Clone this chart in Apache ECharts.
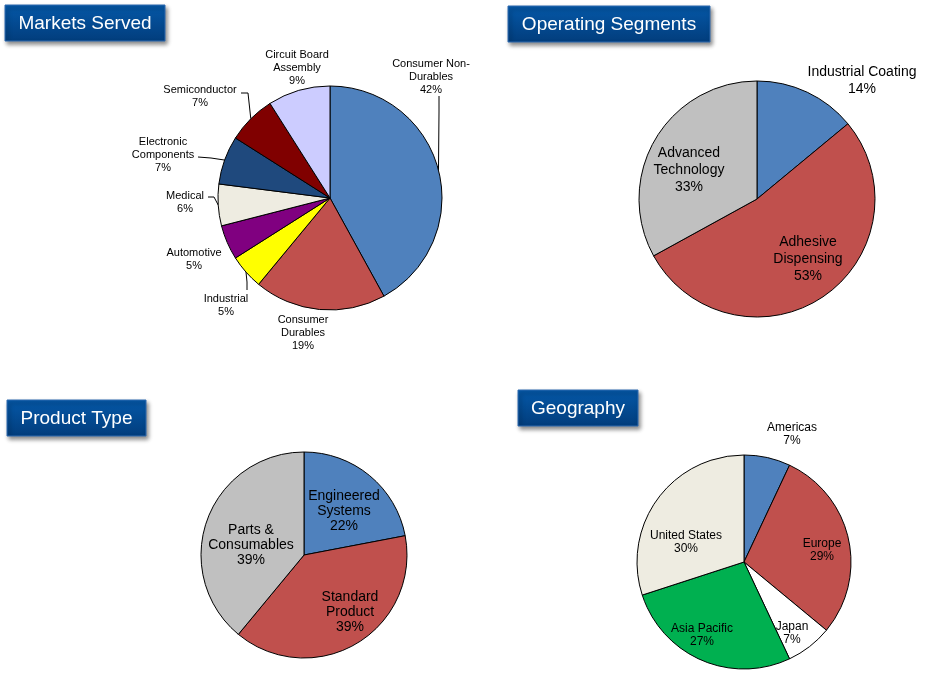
<!DOCTYPE html>
<html>
<head>
<meta charset="utf-8">
<script src="https://cdn.jsdelivr.net/npm/echarts@6/dist/echarts.min.js"></script>
<style>
html,body{margin:0;padding:0;background:#fff;}
#main{width:937px;height:687px;}
</style>
</head>
<body>
<div id="main"></div>
<script>
// ---- Data ----
var marketsCategories = ['Consumer Non-\nDurables', 'Consumer\nDurables', 'Industrial', 'Automotive', 'Medical', 'Electronic\nComponents', 'Semiconductor', 'Circuit Board\nAssembly'];
var marketsValues = [42, 19, 5, 5, 6, 7, 7, 9];

var segmentsCategories = ['Industrial Coating', 'Adhesive\nDispensing', 'Advanced\nTechnology'];
var segmentsValues = [14, 53, 33];

var productCategories = ['Engineered\nSystems', 'Standard\nProduct', 'Parts &\nConsumables'];
var productValues = [22, 39, 39];

var geoCategories = ['Americas', 'Europe', 'Japan', 'Asia Pacific', 'United States'];
var geoValues = [7, 29, 7, 27, 30];

var titles = ['Markets Served', 'Operating Segments', 'Product Type', 'Geography'];

// ---- Styles / layout ----
var FONT = 'Liberation Sans, Arial, sans-serif';
var marketsColors = ['#4F81BD', '#C0504D', '#FFFF00', '#800080', '#EEECE1', '#1F497D', '#800000', '#CCCCFF'];
var segmentsColors = ['#4F81BD', '#C0504D', '#C0C0C0'];
var productColors = ['#4F81BD', '#C0504D', '#C0C0C0'];
var geoColors = ['#4F81BD', '#C0504D', '#FFFFFF', '#00B050', '#EEECE1'];

var labelPos = [
  [[431, 77], [303, 333], [226, 305], [194, 259], [185, 202], [163, 155], [200, 96], [297, 68]],
  [[862, 81], [808, 259], [689, 170]],
  [[344, 511], [350, 612], [251, 545]],
  [[792, 434], [822, 550], [792, 633], [702, 635], [686, 542]]
];
// elbow points for leader lines (markets only), null = no line
var markLines = [
  [[439, 112], [439, 96]],
  null,
  [[247, 282], [247, 290]],
  null,
  [[214, 197], [208, 197]],
  [[211, 158], [198, 157]],
  [[248, 93], [241, 93]],
  null
];

function buildData(cats, vals, colors, lines) {
  return cats.map(function (c, i) {
    return {
      name: c,
      value: vals[i],
      itemStyle: { color: colors[i] },
      labelLine: { show: !!(lines && lines[i]) }
    };
  });
}

function pieSeries(idx, center, radius, data, fontSize, lineHeight) {
  return {
    type: 'pie',
    center: center,
    radius: radius,
    startAngle: 90,
    clockwise: true,
    avoidLabelOverlap: false,
    animation: false,
    silent: true,
    itemStyle: { borderColor: '#000', borderWidth: 1 },
    label: {
      show: true,
      position: 'outside',
      color: '#000',
      fontFamily: FONT,
      fontSize: fontSize,
      lineHeight: lineHeight,
      align: 'center',
      formatter: function (p) { return p.name + '\n' + p.value + '%'; }
    },
    labelLine: {
      show: false,
      length: 5,
      length2: 5,
      lineStyle: { color: '#000', width: 1 }
    },
    emphasis: { disabled: true },
    labelLayout: function (params) {
      var pos = labelPos[idx][params.dataIndex];
      var res = { x: pos[0], y: pos[1], align: 'center', verticalAlign: 'middle' };
      if (idx === 0 && markLines[params.dataIndex] && params.labelLinePoints) {
        var p0 = params.labelLinePoints[0];
        var l = markLines[params.dataIndex];
        res.labelLinePoints = [[p0[0], p0[1]], l[0], l[1]];
      }
      return res;
    },
    data: data
  };
}

function titleBox(x, y, w, h, text) {
  return {
    type: 'group',
    children: [
      {
        type: 'rect',
        shape: { x: x, y: y, width: w, height: h },
        style: {
          fill: new echarts.graphic.LinearGradient(0, 0, 0, 1, [
            { offset: 0, color: '#0558A8' },
            { offset: 1, color: '#023D7C' }
          ]),
          stroke: '#2E6BB0',
          lineWidth: 1,
          shadowBlur: 4,
          shadowOffsetX: 2,
          shadowOffsetY: 3,
          shadowColor: 'rgba(0,0,0,0.45)'
        }
      },
      {
        type: 'text',
        x: x + w / 2,
        y: y + h / 2 + 1,
        style: {
          text: text,
          fill: '#fff',
          font: '19px ' + FONT,
          textAlign: 'center',
          textVerticalAlign: 'middle'
        }
      }
    ]
  };
}

var chart = echarts.init(document.getElementById('main'), null, { renderer: 'canvas' });
chart.setOption({
  backgroundColor: '#fff',
  animation: false,
  graphic: [
    titleBox(5, 5, 160, 36, titles[0]),
    titleBox(508, 6, 202, 36, titles[1]),
    titleBox(7, 400, 139, 36, titles[2]),
    titleBox(518, 390, 120, 36, titles[3])
  ],
  series: [
    pieSeries(0, [330, 198], 112, buildData(marketsCategories, marketsValues, marketsColors, markLines), 11, 13),
    pieSeries(1, [757, 199], 118, buildData(segmentsCategories, segmentsValues, segmentsColors, null), 14, 17),
    pieSeries(2, [304, 555], 103, buildData(productCategories, productValues, productColors, null), 14, 15),
    pieSeries(3, [744, 562], 107, buildData(geoCategories, geoValues, geoColors, null), 12, 13)
  ]
});
</script>
</body>
</html>
